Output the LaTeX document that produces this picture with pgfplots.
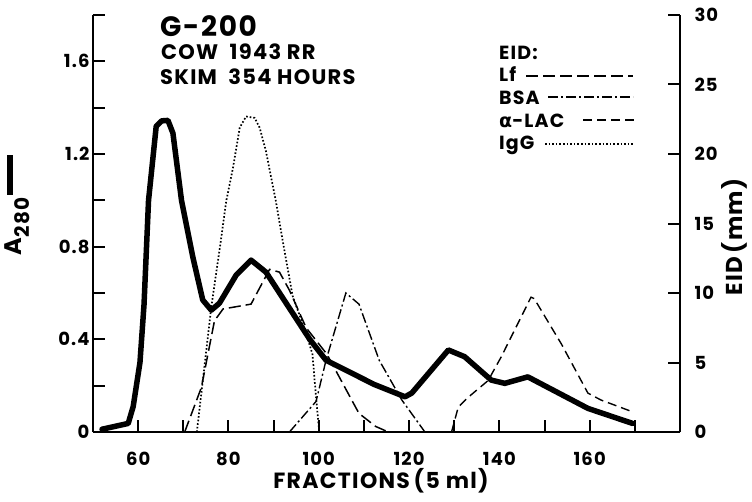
\documentclass[border=0pt]{standalone}
\usepackage{fontspec}
\setmainfont{Poppins}[LetterSpace=6]
\newfontfamily\dejavu{DejaVu Sans}
\usepackage{pgfplots}
\pgfplotsset{compat=1.18}

\pgfplotstableread{
x y
52 0.012
57.8 0.037
58.9 0.11
60.4 0.30
61.3 0.55
62.3 1.0
64.0 1.32
65.2 1.343
66.6 1.345
67.7 1.29
69.6 1.0
72.1 0.756
74.3 0.57
76.2 0.526
78 0.556
81.7 0.677
85 0.742
88.3 0.69
98 0.40
101.6 0.31
112.3 0.205
119.1 0.152
120.6 0.168
128.7 0.354
132.3 0.325
138.2 0.224
141.2 0.21
146.3 0.238
159.6 0.102
169.5 0.037
}\atwoeighty

\pgfplotstableread{
x y
70.3 0
74 3.2
76.9 8.0
78.8 8.85
85 9.2
89.1 11.7
91.3 11.5
93.5 10.2
97.2 7.5
101.8 5.6
108.9 1.34
112.6 0.4
115.4 0
}\lf

\pgfplotstableread{
x y
93.5 0
99.4 2.2
101.6 5.15
106 10.0
108.9 9.2
113.4 5.15
118.4 2.3
123.5 0
}\bsa

\pgfplotstableread{
x y
129.4 0
130.9 1.8
133.1 2.5
137.5 3.7
140.4 5.4
147 9.7
147.7 9.6
153.7 6.35
159.6 2.8
162.5 2.3
169.5 1.45
}\alac

\pgfplotstableread{
x y
73 0
75.1 5.9
76.2 9.0
78.2 13.5
79.5 16.6
81 19
82.5 21.9
83.9 22.7
85.8 22.6
86.9 21.9
88.3 20.2
90.5 16.6
92.2 13.4
94.2 9.8
97.2 7.1
98.6 5.6
99.4 2.5
100.1 0
}\igg

\begin{document}
\begin{tikzpicture}[x=1pt,y=1pt]
\useasboundingbox (-93,-69) rectangle (659,432);
\begin{axis}[
 at={(0,0)}, anchor=south west,
 scale only axis, width=587pt, height=417pt,
 xmin=50, xmax=180, ymin=0, ymax=1.8,
 axis x line=bottom, axis y line=left,
 axis line style={line width=2.4pt,-},
 xtick={60,70,...,170}, xticklabels={60,,80,,100,,120,,140,,160,},
 ytick={0,0.4,0.8,1.2,1.6}, yticklabels={0,0.4,0.8,1.2,1.6},
 minor ytick={0.2,0.6,1.0,1.4,1.8},
 tick align=inside,
 major tick length=12pt, minor tick length=12pt,
 tick style={line width=2pt, black},
 tick label style={font=\fontsize{18}{18}\selectfont\bfseries},
 xticklabel style={anchor=base, yshift=-33pt},
 /pgf/number format/assume math mode=true,
 clip=false,
]
\addplot[black, line width=5.5pt, line join=round, line cap=round] table {\atwoeighty};
\end{axis}
\begin{axis}[
 at={(0,0)}, anchor=south west,
 scale only axis, width=587pt, height=417pt,
 xmin=50, xmax=180, ymin=0, ymax=30,
 axis x line=none, axis y line*=right,
 axis line style={line width=2.4pt,-},
 ytick={0,5,...,30}, yticklabels={0,5,10,15,20,25,30},
 tick align=inside,
 major tick length=12pt,
 tick style={line width=2pt, black},
 tick label style={font=\fontsize{18}{18}\selectfont\bfseries},
 yticklabel style={anchor=west, xshift=11pt},
 /pgf/number format/assume math mode=true,
 clip=false,
]
\addplot[black, line width=1.5pt, dash pattern=on 12pt off 5pt] table {\lf};
\addplot[black, line width=1.4pt, dash pattern=on 10pt off 3pt on 2pt off 3pt] table {\bsa};
\addplot[black, line width=1.4pt, dash pattern=on 9pt off 5pt] table {\alac};
\addplot[black, line width=1.7pt, dash pattern=on 1.6pt off 2pt] table {\igg};
\end{axis}
% titles
\node[anchor=base west, inner sep=0pt, font=\fontsize{28}{28}\selectfont\bfseries] at (67,395) {G-200};
\node[anchor=base west, inner sep=0pt, font=\fontsize{21}{21}\selectfont\bfseries] at (68,372) {COW\ \ 1943 RR};
\node[anchor=base west, inner sep=0pt, font=\fontsize{21}{21}\selectfont\bfseries] at (67,347) {SKIM\ \ 354 HOURS};
% legend
\begin{scope}[font=\fontsize{19}{19}\selectfont\bfseries]
\node[anchor=base west, inner sep=0pt] at (406,372) {EID:};
\node[anchor=base west, inner sep=0pt] at (406,350) {Lf};
\node[anchor=base west, inner sep=0pt] at (406,327) {BSA};
\node[anchor=base west, inner sep=0pt] at (406,304) {{\dejavu\bfseries α}-LAC};
\node[anchor=base west, inner sep=0pt] at (406,282) {IgG};
\end{scope}
\draw[line width=1.5pt, dash pattern=on 12pt off 5pt] (433,356) -- (540,356);
\draw[line width=1.4pt, dash pattern=on 10pt off 3pt on 2pt off 3pt] (455,335) -- (540,335);
\draw[line width=1.4pt, dash pattern=on 9pt off 5pt] (490,312) -- (542,312);
\draw[line width=1.7pt, dash pattern=on 1.6pt off 2pt] (452,288) -- (541,288);
% axis labels
\node[rotate=90, font=\fontsize{24}{24}\selectfont\bfseries] at (-76,227)
 {A\raisebox{-8pt}{\fontsize{20}{20}\selectfont 280}\hspace{3pt}\rule[8pt]{40pt}{6pt}};
\node[rotate=90, font=\fontsize{23}{23}\selectfont\bfseries] at (641,195) {EID\,(mm)};
\node[font=\fontsize{22}{22}\selectfont\bfseries] at (288,-49) {FRACTIONS\,(5 ml)};
\end{tikzpicture}
\end{document}
